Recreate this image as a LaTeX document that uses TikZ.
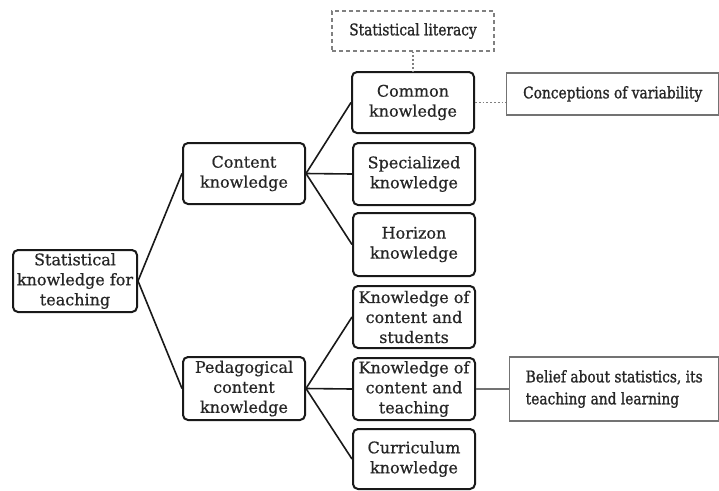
\documentclass[tikz,border=0pt]{standalone}
\usepackage{fontspec}
\setmainfont{DejaVu Serif}[FakeBold=0.6]
\newfontfamily\sidefont{DejaVu Serif}[FakeStretch=0.86, FakeBold=1.2]
\begin{document}
\begin{tikzpicture}[x=1pt,y=-1pt,
  kbox/.style={draw=black!90, line width=2pt, rounded corners=5pt, fill=white,
    text=black!85, align=center, inner sep=2pt, minimum width=122pt,
    font=\fontsize{16}{20}\selectfont},
  sidebox/.style={draw=black!55, line width=1.4pt, fill=white, text=black!85,
    align=left, anchor=west, inner xsep=13pt,
    font=\sidefont\fontsize{16}{22}\selectfont},
  litbox/.style={draw=black!50, line width=1.3pt, dash pattern=on 4pt off 3pt,
    text=black!85, minimum width=162pt, minimum height=40pt,
    font=\sidefont\fontsize{16}{18}\selectfont},
  link/.style={draw=black!90, line width=1.6pt},
  dotlink/.style={draw=black!50, line width=1.8pt, dash pattern=on 1.8pt off 2pt},
  sidelink/.style={draw=black!55, line width=1.6pt}]
\useasboundingbox (0,0) rectangle (719,490);

% main hierarchy
\node[kbox, minimum width=124pt, minimum height=62pt] (skt) at (75,281)
  {Statistical\\knowledge for\\teaching};
\node[kbox, minimum height=61pt] (ck) at (244,173.5) {Content\\knowledge};
\node[kbox, minimum height=63pt] (pck) at (244,388.5) {Pedagogical\\content\\knowledge};

\node[kbox, minimum height=61pt] (common) at (413,102.5) {Common\\knowledge};
\node[kbox, minimum height=62pt] (spec) at (414,174) {Specialized\\knowledge};
\node[kbox, minimum height=63pt] (hor) at (414,244.5) {Horizon\\knowledge};
\node[kbox, minimum height=62pt] (kcs) at (414,317) {Knowledge of\\content and\\students};
\node[kbox, minimum height=62pt] (kct) at (414,389) {Knowledge of\\content and\\teaching};
\node[kbox, minimum height=60pt] (cur) at (414,459) {Curriculum\\knowledge};

% related notions
\node[litbox] (lit) at (413,31) {Statistical literacy};
\node[sidebox, minimum width=212pt, minimum height=42pt] (conc) at (506,94)
  {Conceptions of variability};
\node[sidebox, minimum width=209pt, minimum height=64pt] (belief) at (509,389)
  {Belief about statistics, its\\teaching and learning};

% connectors
\draw[link] (skt.east) -- (ck.west);
\draw[link] (skt.east) -- (pck.west);
\draw[link] (ck.east) -- (common.west);
\draw[link] (ck.east) -- (spec.west);
\draw[link] (ck.east) -- (hor.west);
\draw[link] (pck.east) -- (kcs.west);
\draw[link] (pck.east) -- (kct.west);
\draw[link] (pck.east) -- (cur.west);

\draw[dotlink] (lit.south) -- (common.north);
\draw[dotlink] (common.east) -- (common.east -| conc.west);
\draw[sidelink] (kct.east) -- (belief.west);
\end{tikzpicture}
\end{document}
